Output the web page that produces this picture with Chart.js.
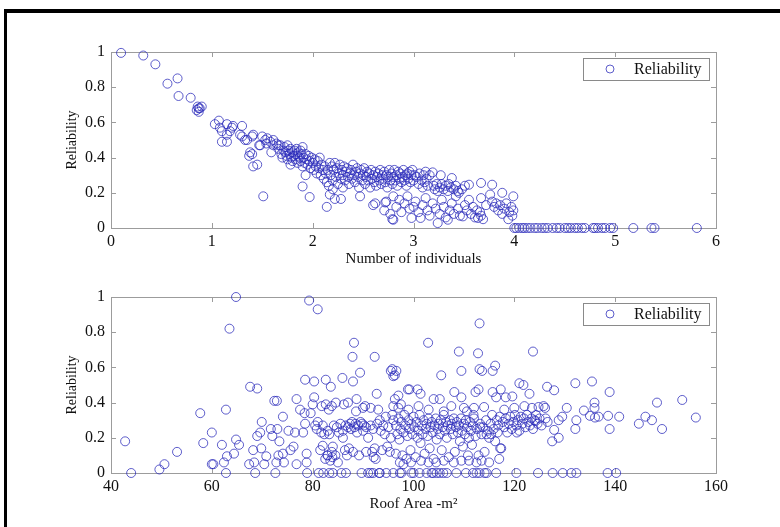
<!DOCTYPE html>
<html>
<head>
<meta charset="utf-8">
<script src="https://cdn.jsdelivr.net/npm/chart.js@4"></script>
<style>
  html, body { margin: 0; padding: 0; background: #fff; }
  #wrap { position: relative; width: 780px; height: 527px; overflow: hidden; }
  #frame { position: absolute; left: 4px; top: 9px; right: -10px; bottom: -10px;
           border-top: 4px solid #000; border-left: 3px solid #000; }
  canvas { position: absolute; left: 0; top: 0; }
</style>
</head>
<body>
<div id="wrap">
  <div id="frame"></div>
  <canvas id="indivChart" width="780" height="527"></canvas>
  <canvas id="roofChart" width="780" height="527"></canvas>
</div>
<script>
// reliability vs number of individuals  [x, reliability]
const indivPoints = [
  [0.10,0.995],[0.32,0.98],[0.44,0.93],[0.56,0.82],[0.66,0.85],[0.67,0.75],[0.79,0.74],
  [0.85,0.67],[0.86,0.69],[0.87,0.66],[0.88,0.68],[0.90,0.69],[0.87,0.68],
  [1.03,0.59],[1.07,0.61],[1.08,0.57],[1.10,0.55],[1.10,0.49],[1.15,0.49],[1.15,0.59],[1.15,0.53],
  [1.18,0.55],[1.20,0.57],[1.21,0.58],[1.30,0.58],[1.30,0.52],[1.33,0.50],[1.28,0.53],[1.35,0.50],
  [1.40,0.52],[1.41,0.53],[1.38,0.43],[1.40,0.42],[1.37,0.41],[1.41,0.35],[1.45,0.36],[1.48,0.47],
  [1.53,0.50],[1.54,0.48],[1.55,0.51],[1.58,0.49],[1.61,0.50],[1.61,0.47],[1.59,0.43],[1.64,0.48],
  [1.66,0.47],[1.51,0.18],[1.47,0.47],[1.50,0.52],
  [1.66,0.45],[1.68,0.47],[1.69,0.42],[1.70,0.40],[1.71,0.44],[1.72,0.46],[1.73,0.43],[1.74,0.41],
  [1.75,0.47],[1.75,0.39],[1.76,0.44],[1.77,0.42],[1.78,0.36],[1.78,0.45],[1.79,0.40],[1.80,0.43],
  [1.80,0.38],[1.81,0.41],[1.82,0.44],[1.83,0.39],[1.83,0.42],[1.84,0.45],[1.85,0.37],[1.85,0.41],
  [1.86,0.43],[1.87,0.40],[1.88,0.38],[1.88,0.44],[1.89,0.42],[1.90,0.46],[1.90,0.35],[1.91,0.40],
  [1.92,0.37],[1.93,0.42],[1.93,0.30],[1.94,0.39],[1.95,0.36],[1.96,0.41],[1.97,0.38],[1.98,0.34],
  [1.99,0.40],[2.00,0.37],[2.01,0.33],[2.02,0.39],[2.03,0.35],[2.04,0.31],[2.05,0.38],[2.06,0.34],
  [2.07,0.40],[2.08,0.30],[2.09,0.36],[2.10,0.33],[2.11,0.28],[2.12,0.35],[2.13,0.31],[2.14,0.26],
  [2.15,0.33],[2.16,0.24],[2.17,0.37],[2.18,0.30],[2.19,0.35],[2.20,0.27],[2.20,0.22],
  [1.90,0.236],[1.97,0.176],[2.14,0.12],[2.17,0.19],[2.22,0.165],[2.28,0.165],
  [2.21,0.33],[2.22,0.37],[2.23,0.29],[2.24,0.34],[2.25,0.25],[2.26,0.31],[2.27,0.36],[2.28,0.28],
  [2.29,0.33],[2.30,0.23],[2.30,0.30],[2.31,0.35],[2.32,0.27],[2.33,0.32],[2.34,0.34],[2.35,0.29],
  [2.36,0.25],[2.37,0.31],[2.38,0.33],[2.39,0.28],[2.40,0.36],[2.41,0.30],[2.42,0.26],[2.43,0.32],
  [2.44,0.34],[2.45,0.29],[2.46,0.23],[2.47,0.31],[2.48,0.33],[2.49,0.27],[2.50,0.30],[2.51,0.34],
  [2.52,0.25],[2.53,0.29],[2.54,0.32],[2.55,0.27],[2.56,0.31],[2.57,0.23],[2.58,0.33],[2.59,0.28],
  [2.60,0.30],[2.61,0.26],[2.62,0.32],[2.63,0.24],[2.64,0.29],[2.65,0.31],[2.66,0.27],[2.67,0.33],
  [2.68,0.25],[2.69,0.30],[2.70,0.28],[2.71,0.32],[2.72,0.26],[2.73,0.30],[2.74,0.23],[2.75,0.29],
  [2.76,0.33],[2.77,0.27],[2.78,0.31],[2.79,0.25],[2.80,0.29],[2.81,0.33],[2.82,0.27],[2.83,0.30],
  [2.84,0.24],[2.85,0.32],[2.86,0.28],[2.87,0.31],[2.88,0.26],[2.89,0.29],[2.90,0.33],[2.91,0.27],
  [2.92,0.30],[2.93,0.24],[2.94,0.31],[2.95,0.28],[2.96,0.32],[2.97,0.26],[2.98,0.30],[2.99,0.33],
  [3.00,0.27],[3.01,0.30],
  [2.47,0.18],[2.60,0.13],[2.62,0.14],[2.71,0.10],[2.72,0.145],[2.73,0.15],[2.77,0.08],[2.79,0.05],
  [2.80,0.18],[2.80,0.047],[2.83,0.12],[2.86,0.16],[2.88,0.09],[2.91,0.14],[2.94,0.18],[2.96,0.11],
  [2.98,0.057],[3.00,0.12],
  [3.03,0.29],[3.05,0.25],[3.06,0.31],[3.08,0.27],[3.09,0.23],[3.10,0.30],[3.11,0.26],[3.12,0.32],
  [3.13,0.28],[3.14,0.24],[3.16,0.30],[3.19,0.316],[3.20,0.24],[3.21,0.22],[3.23,0.25],[3.24,0.21],
  [3.26,0.23],[3.27,0.30],[3.28,0.25],[3.30,0.22],[3.32,0.24],[3.34,0.21],[3.35,0.25],[3.37,0.23],
  [3.38,0.284],[3.40,0.22],[3.42,0.24],[3.44,0.21],[3.45,0.20],[3.48,0.22],[3.51,0.24],[3.55,0.246],
  [3.67,0.256],[3.67,0.17],[3.76,0.19],[3.78,0.246],[3.88,0.20],[3.99,0.18],
  [3.02,0.15],[3.05,0.09],[3.07,0.057],[3.09,0.13],[3.12,0.17],[3.14,0.10],[3.16,0.07],[3.19,0.14],
  [3.22,0.11],[3.24,0.028],[3.26,0.08],[3.28,0.16],[3.30,0.12],[3.32,0.06],[3.34,0.047],[3.36,0.10],
  [3.38,0.14],[3.40,0.08],[3.42,0.18],[3.44,0.11],[3.46,0.07],[3.49,0.066],[3.51,0.13],[3.53,0.10],
  [3.55,0.16],[3.57,0.08],[3.59,0.12],[3.61,0.06],[3.63,0.10],[3.64,0.057],[3.66,0.09],[3.67,0.07],
  [3.69,0.05],[3.72,0.13],[3.78,0.15],[3.80,0.12],[3.82,0.14],[3.84,0.10],[3.86,0.13],[3.88,0.08],
  [3.90,0.11],[3.92,0.14],[3.94,0.05],[3.95,0.09],[3.97,0.12],[3.98,0.07],[3.99,0.10],
  [4.00,0],[4.02,0],[4.05,0],[4.08,0],[4.10,0],[4.13,0],[4.16,0],[4.20,0],[4.23,0],[4.27,0],
  [4.30,0],[4.33,0],[4.38,0],[4.42,0],[4.45,0],[4.50,0],[4.53,0],[4.56,0],[4.60,0],[4.63,0],
  [4.67,0],[4.70,0],[4.78,0],[4.80,0],[4.83,0],[4.87,0],[4.90,0],[4.95,0],[4.98,0],[5.18,0],
  [5.36,0],[5.39,0],[5.81,0]
];

// reliability vs roof area  [m2, reliability]
const roofPoints = [
  [42.8,0.18],[44.0,0],[49.6,0.02],[50.6,0.05],[53.1,0.12],[57.7,0.34],[58.3,0.17],[60.0,0.23],
  [60.0,0.05],[60.3,0.05],[62.0,0.16],[62.8,0.36],[62.8,0],[63.0,0.095],[62.4,0.06],[63.5,0.82],
  [64.8,1.0],[64.4,0.11],[64.8,0.19],[65.4,0.16],[67.4,0.05],[67.6,0.49],[68.2,0.13],[68.6,0],
  [68.4,0.06],[69.0,0.48],[69.0,0.21],[69.6,0.23],[69.9,0.29],[69.8,0.14],[70.4,0.05],[70.8,0.095],
  [71.7,0.25],[72.0,0.21],[72.4,0.41],[72.9,0.41],[72.6,0],[72.8,0.06],[73.0,0.25],[73.2,0.10],
  [73.4,0.18],[74.1,0.32],[74.1,0.11],[74.3,0.06],[75.2,0.24],[75.6,0.13],[76.2,0.15],[76.5,0.23],
  [76.8,0.42],[76.8,0.05],[77.5,0.36],[78.1,0.23],[78.4,0.34],[78.5,0.28],[78.5,0.53],[78.9,0],
  [78.8,0.06],[78.8,0.11],[79.3,0.98],[79.6,0.34],[80.0,0.39],[80.3,0.43],[80.3,0.52],[81.0,0.93],
  [80.8,0.25],[81.2,0],[81.5,0.13],[81.8,0.38],[82.0,0.155],[82.1,0],[82.3,0.22],[82.6,0.53],
  [82.6,0.39],[82.9,0.10],[83.3,0],[83.2,0.36],[83.3,0.22],[83.6,0.49],[83.8,0.38],[83.8,0.12],
  [84.8,0.26],[85.0,0.06],[85.7,0],[85.9,0.54],[86.2,0.39],[86.4,0.13],[87.9,0.66],[88.2,0.74],
  [88.0,0.52],[89.4,0.57],[88.7,0.42],[87.4,0.28],[87.6,0.25],[88.3,0.26],[88.6,0.35],[89.7,0],
  [90.4,0.38],[90.6,0.26],[90.6,0.12],[91.0,0],[92.3,0.66],[92.7,0.45],[93.2,0],[93.0,0.36],
  [93.3,0.30],[92.1,0.09],[92.3,0.14],[95.5,0.58],[96.0,0.55],[96.0,0.38],[96.0,0.30],[96.0,0],
  [95.3,0.12],
  [80.5,0.27],[81.0,0.29],[81.7,0.23],[82.0,0.27],[82.5,0.08],[83.0,0.24],[83.5,0.07],[83.9,0.09],
  [84.0,0.15],[84.2,0.27],[84.5,0.10],[85.2,0.23],[85.5,0.28],[86.0,0.24],[86.5,0.27],[86.8,0.10],
  [87.0,0.26],[87.2,0.14],[87.8,0.29],[88.0,0.12],[88.5,0.28],[88.8,0.23],[89.0,0.27],[89.2,0.10],
  [89.5,0.29],[90.0,0.24],[90.2,0.27],[91.0,0.20],[91.5,0.27],[91.8,0.12],[92.0,0.25],[92.5,0.08],
  [92.8,0.28],[93.5,0.24],[93.8,0.13],[94.0,0.27],[94.3,0.22],[94.5,0.32],[94.8,0.15],[95.0,0.26],
  [95.5,0.20],[95.8,0.33],[83.0,0.10],[84.6,0.40],[90.0,0.37],[91.5,0.37],[87.0,0.40],[86.0,0.20],
  [89.8,0.28],
  [95.8,0.59],[96.6,0.58],[96.3,0.555],[105.5,0.555],[109.5,0.58],[113.1,0.59],[113.6,0.58],
  [115.7,0.58],[116.2,0.61],[98.9,0.475],[99.2,0.475],[100.8,0.475],[101.4,0.45],[104.0,0.42],
  [105.2,0.42],[108.1,0.46],[109.5,0.43],[112.3,0.46],[112.9,0.475],[115.7,0.46],[116.4,0.43],
  [117.3,0.475],[118.3,0.43],[119.6,0.435],[121.0,0.51],[121.8,0.50],[123.0,0.45],[113.1,0.85],
  [102.9,0.74],[109.0,0.69],[112.8,0.68],[123.7,0.69],
  [96.5,0.27],[96.8,0.22],[97.0,0.31],[97.2,0.19],[97.4,0.25],[97.6,0.29],[97.8,0.10],[98.0,0.23],
  [98.2,0.33],[98.4,0.27],[98.6,0.08],[98.8,0.21],[99.0,0.30],[99.2,0.25],[99.4,0.13],[99.6,0.28],
  [99.8,0.22],[100.0,0.32],[100.2,0.26],[100.4,0.09],[100.6,0.29],[100.8,0.20],[101.0,0.24],[101.2,0.33],
  [101.4,0.17],[101.6,0.27],[101.8,0.22],[102.0,0.30],[102.2,0.11],[102.4,0.25],[102.6,0.28],[102.8,0.21],
  [103.0,0.31],[103.2,0.14],[103.4,0.26],[103.6,0.29],[103.8,0.23],[104.0,0.08],[104.2,0.27],[104.4,0.31],
  [104.6,0.19],[104.8,0.25],[105.0,0.28],[105.2,0.22],[105.4,0.30],[105.6,0.13],[105.8,0.26],[106.0,0.33],
  [106.2,0.24],[106.4,0.29],[106.6,0.20],[106.8,0.27],[107.0,0.09],[107.2,0.30],[107.4,0.25],[107.6,0.28],
  [107.8,0.22],[108.0,0.31],[108.2,0.12],[108.4,0.26],[108.6,0.29],[108.8,0.23],[109.0,0.27],[109.2,0.18],
  [109.4,0.31],[109.6,0.24],[109.8,0.15],[110.0,0.28],[110.2,0.22],[110.4,0.30],[110.6,0.26],[110.8,0.10],
  [111.0,0.20],[111.2,0.29],[111.4,0.24],[111.6,0.16],[111.8,0.27],[112.0,0.31],[112.3,0.21],[112.6,0.25],
  [112.9,0.10],[113.2,0.28],[113.5,0.22],[113.8,0.26],[114.1,0.12],[114.4,0.30],[114.7,0.24],[115.0,0.20],
  [115.3,0.28],[115.6,0.33],[115.9,0.25],[116.2,0.18],[116.5,0.30],[116.8,0.27],[117.1,0.32],[117.4,0.14],
  [117.7,0.29],[118.0,0.26],[118.3,0.31],[118.6,0.23],[118.9,0.28],[119.2,0.32],[119.5,0.25],[119.8,0.29],
  [120.1,0.33],[120.4,0.27],[120.7,0.30],[121.0,0.24],[121.3,0.32],[121.6,0.28],[121.9,0.31],[122.2,0.26],
  [122.5,0.33],[122.8,0.29],[123.1,0.27],[123.4,0.31],[123.7,0.25],[124.0,0.30],[124.3,0.33],[124.6,0.28],
  [125.0,0.31],[125.4,0.27],[125.8,0.38],[126.2,0.31],[126.6,0.29],
  [117.2,0.14],[116.7,0.23],[115.4,0.22],[114.5,0.22],[113.2,0.26],[114.0,0.375],[111.9,0.33],[110.6,0.35],
  [120.5,0.23],[124.2,0.295],[123.5,0.37],[124.8,0.375],[126.1,0.37],[127.5,0.18],[128.8,0.20],[127.9,0.245],
  [128.8,0.30],[129.5,0.32],[130.4,0.37],[132.1,0.25],[132.3,0.30],[133.8,0.355],[135.0,0.325],[135.9,0.37],
  [136.0,0.315],[136.7,0.32],[138.6,0.325],[138.9,0.25],[140.8,0.32],[144.7,0.28],[146.0,0.32],[147.3,0.30],
  [149.3,0.25],[156.0,0.315],[153.3,0.415],[148.3,0.40],[135.9,0.40],[138.9,0.46],[135.4,0.52],[132.1,0.51],
  [127.9,0.47],[126.5,0.49],
  [97.0,0.37],[97.5,0.39],[99.0,0.36],[101.0,0.38],[103.0,0.36],[106.0,0.35],[107.5,0.38],[110.0,0.37],
  [112.0,0.37],[118.0,0.36],[120.0,0.37],[122.0,0.38],[96.3,0.42],[97.0,0.44],
  [96.5,0.11],[97.3,0.06],[98.0,0.05],[99.5,0.06],[101.5,0.07],[103.0,0.06],[104.5,0.06],[106.0,0.07],
  [108.0,0.06],[109.5,0.07],[111.0,0.07],[112.5,0.06],[113.5,0.07],[115.0,0.06],[117.0,0.08],
  [93.3,0],[94.6,0],[97.3,0],[97.6,0],[99.6,0],[101.2,0],[102.6,0],[103.6,0],[103.9,0],[104.6,0],
  [105.9,0],[106.6,0],[108.5,0],[110.4,0],[111.8,0],[113.1,0],[114.1,0],[114.5,0],[116.4,0],[120.4,0],
  [124.7,0],[127.6,0],[129.6,0],[131.3,0],[132.3,0],[138.5,0],[140.2,0],[84.0,0],[86.6,0],[91.5,0],
  [92.0,0],[100.0,0],[105.2,0],[112.5,0]
];

const seriesLabel = 'Reliability';
const markerColor = 'rgba(40, 40, 185, 0.75)';
const serif = 'Liberation Serif, Times New Roman, serif';

// box, inward tick marks and boxed legend like the original figure
const framePlugin = {
  id: 'frame',
  beforeDatasetsDraw(chart) {
    const { ctx, chartArea: a, scales: { x, y } } = chart;
    ctx.save();
    ctx.strokeStyle = '#9c9c9c';
    ctx.lineWidth = 1;
    ctx.strokeRect(a.left + 0.5, a.top + 0.5, a.width, a.height);
    ctx.beginPath();
    x.ticks.forEach(t => {
      const px = Math.round(x.getPixelForValue(t.value)) + 0.5;
      ctx.moveTo(px, a.top); ctx.lineTo(px, a.top + 5);
      ctx.moveTo(px, a.bottom); ctx.lineTo(px, a.bottom - 5);
    });
    y.ticks.forEach(t => {
      const py = Math.round(y.getPixelForValue(t.value)) + 0.5;
      ctx.moveTo(a.left, py); ctx.lineTo(a.left + 5, py);
      ctx.moveTo(a.right, py); ctx.lineTo(a.right - 5, py);
    });
    ctx.stroke();
    ctx.restore();
  },
  afterDraw(chart) {
    const { ctx, chartArea: a } = chart;
    const ds = chart.data.datasets[0];
    const w = 126, h = 22;
    const lx = a.right - 7 - w, ly = a.top + 6;
    ctx.save();
    ctx.fillStyle = '#fff';
    ctx.fillRect(lx, ly, w, h);
    ctx.strokeStyle = '#8a8a8a';
    ctx.lineWidth = 1;
    ctx.strokeRect(lx + 0.5, ly + 0.5, w, h);
    ctx.beginPath();
    ctx.arc(lx + 27, ly + h / 2, 4, 0, Math.PI * 2);
    ctx.strokeStyle = ds.borderColor;
    ctx.stroke();
    ctx.fillStyle = '#111';
    ctx.font = '16px ' + serif;
    ctx.textBaseline = 'middle';
    ctx.fillText(ds.label, lx + 51, ly + h / 2 + 1);
    ctx.restore();
  }
};

function scatterChart(id, points, xMin, xMax, xStep, xTitle, padTop, padBottom) {
  return new Chart(document.getElementById(id).getContext('2d'), {
    type: 'scatter',
    data: {
      datasets: [{
        label: seriesLabel,
        data: points.map(p => ({ x: p[0], y: p[1] })),
        pointStyle: 'circle',
        pointRadius: 4.5,
        pointBorderWidth: 1,
        borderColor: markerColor,
        backgroundColor: 'rgba(0,0,0,0)',
        clip: false
      }]
    },
    options: {
      responsive: false,
      animation: false,
      events: [],
      layout: { padding: { left: 0, right: 64, top: padTop, bottom: padBottom } },
      plugins: { legend: { display: false }, tooltip: { enabled: false } },
      scales: {
        x: {
          type: 'linear', min: xMin, max: xMax,
          grid: { display: false, drawTicks: false },
          border: { display: false },
          ticks: { stepSize: xStep, padding: 4, color: '#111', font: { family: serif, size: 16 } },
          title: { display: true, text: xTitle, color: '#111', padding: { top: 4, bottom: 0 },
                   font: { family: serif, size: 15 } },
          afterFit(s) { s.height = 40; }
        },
        y: {
          type: 'linear', min: 0, max: 1,
          grid: { display: false, drawTicks: false },
          border: { display: false },
          ticks: {
            stepSize: 0.2, padding: 6, color: '#111', font: { family: serif, size: 16 },
            callback: v => String(Number(v.toFixed(1)))
          },
          title: { display: true, text: seriesLabel, color: '#111', padding: { top: 64, bottom: 0 },
                   font: { family: serif, size: 14 } },
          afterFit(s) { s.width = 111; }
        }
      }
    },
    plugins: [framePlugin]
  });
}

scatterChart('indivChart', indivPoints, 0, 6, 1, 'Number of individuals', 52, 259);
scatterChart('roofChart', roofPoints, 40, 160, 20, 'Roof Area -m\u00B2', 297, 14);
</script>
</body>
</html>
